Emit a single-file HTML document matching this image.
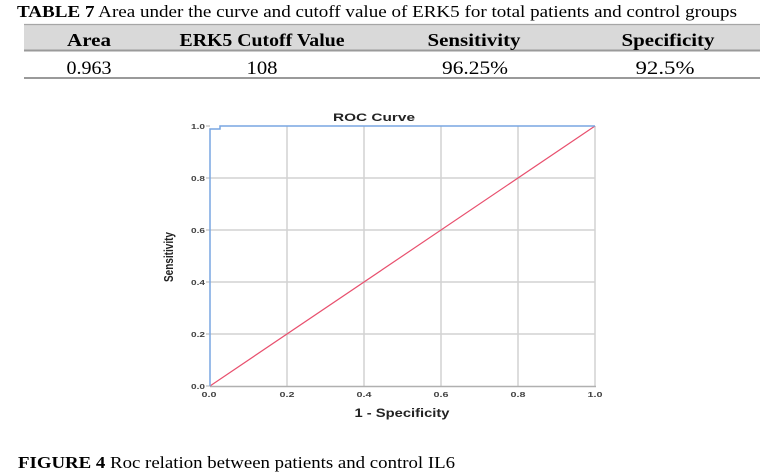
<!DOCTYPE html>
<html>
<head>
<meta charset="utf-8">
<style>
  html, body { margin: 0; padding: 0; background: #ffffff; }
  body { width: 772px; height: 473px; overflow: hidden; }
  svg { display: block; }
</style>
</head>
<body>
<svg width="772" height="473" viewBox="0 0 772 473" xmlns="http://www.w3.org/2000/svg">
  <rect x="0" y="0" width="772" height="473" fill="#ffffff"/>

  <!-- Table title -->
  <text x="17" y="17" font-family="Liberation Serif, serif" font-size="17" fill="#000" textLength="720" lengthAdjust="spacingAndGlyphs"><tspan font-weight="bold">TABLE 7</tspan> Area under the curve and cutoff value of ERK5 for total patients and control groups</text>

  <!-- Table header band -->
  <rect x="24" y="24" width="736" height="26" fill="#d9d9d9"/>
  <line x1="24" y1="24.5" x2="760" y2="24.5" stroke="#a6a6a6" stroke-width="1.2"/>
  <line x1="24" y1="50.5" x2="760" y2="50.5" stroke="#9a9a9a" stroke-width="2"/>
  <line x1="24" y1="78" x2="760" y2="78" stroke="#9a9a9a" stroke-width="2"/>

  <g font-family="Liberation Serif, serif" font-size="18" font-weight="bold" fill="#000" text-anchor="middle">
    <text x="89" y="46" textLength="44" lengthAdjust="spacingAndGlyphs">Area</text>
    <text x="262" y="46" textLength="165" lengthAdjust="spacingAndGlyphs">ERK5 Cutoff Value</text>
    <text x="474" y="46" textLength="93" lengthAdjust="spacingAndGlyphs">Sensitivity</text>
    <text x="668" y="46" textLength="93" lengthAdjust="spacingAndGlyphs">Specificity</text>
  </g>
  <g font-family="Liberation Serif, serif" font-size="19" fill="#000" text-anchor="middle">
    <text x="89" y="74" textLength="45" lengthAdjust="spacingAndGlyphs">0.963</text>
    <text x="262" y="74" textLength="31" lengthAdjust="spacingAndGlyphs">108</text>
    <text x="475" y="74" textLength="66" lengthAdjust="spacingAndGlyphs">96.25%</text>
    <text x="665" y="74" textLength="59" lengthAdjust="spacingAndGlyphs">92.5%</text>
  </g>

  <!-- Chart title -->
  <text x="374" y="121" font-family="Liberation Sans, Arial, sans-serif" font-size="11" font-weight="bold" fill="#222" text-anchor="middle" textLength="82" lengthAdjust="spacingAndGlyphs">ROC Curve</text>

  <!-- Gridlines -->
  <g stroke="#d2d2d2" stroke-width="1.5">
    <line x1="287" y1="126" x2="287" y2="386"/>
    <line x1="364" y1="126" x2="364" y2="386"/>
    <line x1="441" y1="126" x2="441" y2="386"/>
    <line x1="518" y1="126" x2="518" y2="386"/>
    <line x1="595" y1="126" x2="595" y2="386"/>
    <line x1="210" y1="178" x2="595" y2="178"/>
    <line x1="210" y1="230" x2="595" y2="230"/>
    <line x1="210" y1="282" x2="595" y2="282"/>
    <line x1="210" y1="334" x2="595" y2="334"/>
  </g>
  <!-- x axis -->
  <line x1="210" y1="386.5" x2="596" y2="386.5" stroke="#b0b0b0" stroke-width="1.5"/>
  <!-- y ticks -->
  <g stroke="#b0b0b0" stroke-width="1">
    <line x1="206" y1="126" x2="210" y2="126"/>
    <line x1="206" y1="178" x2="210" y2="178"/>
    <line x1="206" y1="230" x2="210" y2="230"/>
    <line x1="206" y1="282" x2="210" y2="282"/>
    <line x1="206" y1="334" x2="210" y2="334"/>
    <line x1="206" y1="386" x2="210" y2="386"/>
  </g>

  <!-- Reference diagonal -->
  <line x1="210" y1="386" x2="595" y2="126" stroke="#e8506e" stroke-width="1.2"/>

  <!-- ROC curve -->
  <path d="M210,386 L210,129 L220,129 L220,126 L595,126" fill="none" stroke="#78a6e2" stroke-width="1.5"/>

  <!-- Y tick labels -->
  <g font-family="Liberation Sans, Arial, sans-serif" font-size="7.5" font-weight="bold" fill="#444" text-anchor="end">
    <text x="205" y="129" textLength="14" lengthAdjust="spacingAndGlyphs">1.0</text>
    <text x="205" y="181" textLength="14" lengthAdjust="spacingAndGlyphs">0.8</text>
    <text x="205" y="233" textLength="14" lengthAdjust="spacingAndGlyphs">0.6</text>
    <text x="205" y="285" textLength="14" lengthAdjust="spacingAndGlyphs">0.4</text>
    <text x="205" y="337" textLength="14" lengthAdjust="spacingAndGlyphs">0.2</text>
    <text x="205" y="389" textLength="14" lengthAdjust="spacingAndGlyphs">0.0</text>
  </g>
  <!-- X tick labels -->
  <g font-family="Liberation Sans, Arial, sans-serif" font-size="7.5" font-weight="bold" fill="#444" text-anchor="middle">
    <text x="209" y="397" textLength="15" lengthAdjust="spacingAndGlyphs">0.0</text>
    <text x="287" y="397" textLength="15" lengthAdjust="spacingAndGlyphs">0.2</text>
    <text x="364" y="397" textLength="15" lengthAdjust="spacingAndGlyphs">0.4</text>
    <text x="441" y="397" textLength="15" lengthAdjust="spacingAndGlyphs">0.6</text>
    <text x="518" y="397" textLength="15" lengthAdjust="spacingAndGlyphs">0.8</text>
    <text x="595" y="397" textLength="15" lengthAdjust="spacingAndGlyphs">1.0</text>
  </g>

  <!-- Axis titles -->
  <text x="402" y="417" font-family="Liberation Sans, Arial, sans-serif" font-size="11.5" font-weight="bold" fill="#222" text-anchor="middle" textLength="95" lengthAdjust="spacingAndGlyphs">1 - Specificity</text>
  <text transform="translate(173,257) rotate(-90)" x="0" y="0" font-family="Liberation Sans, Arial, sans-serif" font-size="13" font-weight="bold" fill="#222" text-anchor="middle" textLength="50" lengthAdjust="spacingAndGlyphs">Sensitivity</text>

  <!-- Figure caption -->
  <text x="18" y="468" font-family="Liberation Serif, serif" font-size="17" fill="#000" textLength="437" lengthAdjust="spacingAndGlyphs"><tspan font-weight="bold">FIGURE 4</tspan> Roc relation between patients and control IL6</text>
</svg>
</body>
</html>
